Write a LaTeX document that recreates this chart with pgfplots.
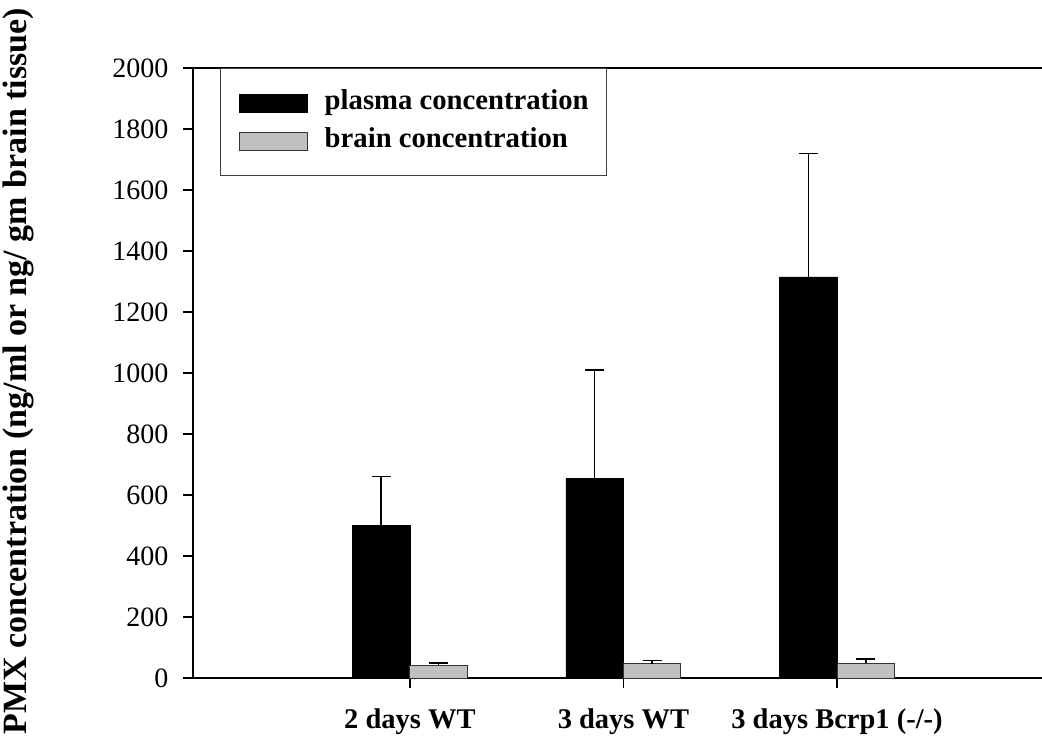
\documentclass[border=0pt]{standalone}
\usepackage{pgfplots}
\pgfplotsset{compat=1.18}
\usepackage{fontspec}
\setmainfont{Liberation Serif}
\definecolor{brain}{RGB}{192,192,192}
\begin{document}
\begin{tikzpicture}
\begin{axis}[
  scale only axis,
  width=849pt, height=610pt,
  xmin=-0.016, xmax=3.96,
  ymin=0, ymax=2000,
  axis x line*=bottom,
  axis y line*=left,
  axis line style={line width=1.8pt, black},
  tick align=outside,
  major tick length=10pt,
  tick style={line width=1.5pt, black},
  xtick={1,2,3},
  xticklabels={2 days WT, 3 days WT, 3 days Bcrp1 (-/-)},
  ytick={0,200,...,2000},
  /pgf/number format/assume math mode=true,
  /pgf/number format/1000 sep={},
  font=\fontsize{28pt}{33pt}\selectfont,
  xticklabel style={font=\fontsize{28.5pt}{33pt}\selectfont\bfseries, yshift=-17pt},
  yticklabel style={font=\fontsize{28pt}{33pt}\selectfont, xshift=-11pt},
  ybar=0pt,
  bar width=57.5pt,
  ylabel={\bfseries PMX concentration (ng/ml or ng/ gm brain tissue)},
  ylabel style={at={(axis description cs:-0.206,0.503)}, anchor=center, font=\fontsize{34pt}{40pt}\selectfont},
  legend image code/.code={\draw[#1, line width=1pt] (0pt,-9pt) rectangle (68pt,9pt);},
  legend cell align=left,
  legend style={
    at={(axis description cs:0.0318,1)}, anchor=north west,
    draw=black!75, line width=1.5pt,
    inner xsep=18pt, inner ysep=22pt,
    nodes={inner sep=0pt, text height=19pt, text depth=6pt, font=\fontsize{28.7pt}{33pt}\selectfont\bfseries},
    row sep=13pt,
    /tikz/every odd column/.append style={column sep=17pt},
  },
]
\addplot[fill=black, draw=black, line width=0.8pt,
  error bars/.cd, y dir=plus, y explicit, error mark=-,
  error mark options={line width=1.5pt, mark size=9.5pt, black, rotate=90},
  error bar style={line width=1.5pt, black}]
  coordinates {(1,500) +- (0,160) (2,655) +- (0,355) (3,1315) +- (0,405)};
\addplot[fill=brain, draw=black!80, line width=1pt,
  error bars/.cd, y dir=plus, y explicit, error mark=-,
  error mark options={line width=1.5pt, mark size=9.5pt, black, rotate=90},
  error bar style={line width=1.5pt, black}]
  coordinates {(1,40) +- (0,10) (2,46) +- (0,11) (3,48) +- (0,14)};
\legend{plasma concentration, brain concentration}
\draw[line width=1.8pt, black] (rel axis cs:0,1) -- (rel axis cs:1,1);
\coordinate (sw) at (rel axis cs:0,0);
\end{axis}
\pgfresetboundingbox
\useasboundingbox ([shift={(-193pt,-59pt)}]sw) rectangle ([shift={(849pt,678pt)}]sw);
\end{tikzpicture}
\end{document}
